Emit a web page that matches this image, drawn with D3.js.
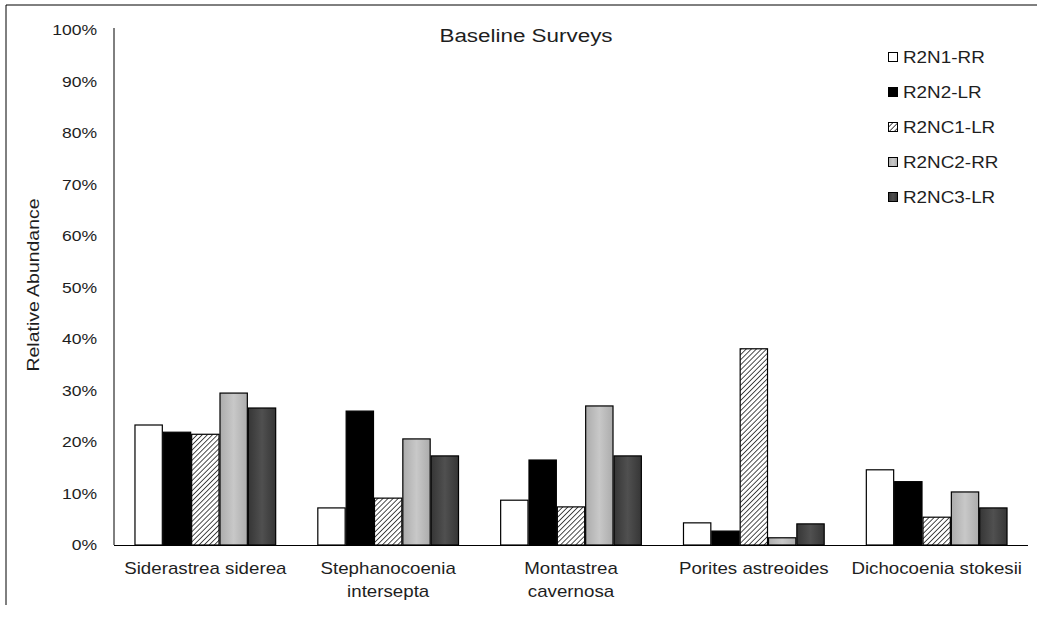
<!DOCTYPE html>
<html><head><meta charset="utf-8">
<script src="https://cdn.jsdelivr.net/npm/d3@7"></script>
<style>body{margin:0;background:#fff}svg{display:block;font-family:"Liberation Sans",Arial,sans-serif}</style>
</head><body><svg id="c" width="1037" height="618"></svg>
<script>
const categories = ["Siderastrea siderea","Stephanocoenia intersepta","Montastrea cavernosa","Porites astreoides","Dichocoenia stokesii"];
const categoryLines = [["Siderastrea siderea"],["Stephanocoenia","intersepta"],["Montastrea","cavernosa"],["Porites astreoides"],["Dichocoenia stokesii"]];
const seriesNames = ["R2N1-RR","R2N2-LR","R2NC1-LR","R2NC2-RR","R2NC3-LR"];
const R2N1_RR  = [23.3, 7.2, 8.7, 4.3, 14.6];
const R2N2_LR  = [21.9, 26.0, 16.5, 2.7, 12.3];
const R2NC1_LR = [21.5, 9.1, 7.4, 38.1, 5.4];
const R2NC2_RR = [29.5, 20.6, 27.0, 1.4, 10.3];
const R2NC3_LR = [26.6, 17.3, 17.3, 4.1, 7.2];
const yTicks = [0,10,20,30,40,50,60,70,80,90,100];

const series = [R2N1_RR, R2N2_LR, R2NC1_LR, R2NC2_RR, R2NC3_LR];
const fills = ["#ffffff","#000000","url(#hatch)","url(#gGrey)","url(#gDark)"];
const SX = 1.17;
const TXT = "#1e1e1e";

const svg = d3.select("#c");
const defs = svg.append("defs");
const hp = defs.append("pattern").attr("id","hatch").attr("patternUnits","userSpaceOnUse")
  .attr("width",3.6).attr("height",3.6).attr("patternTransform","rotate(45)");
hp.append("rect").attr("width",3.6).attr("height",3.6).attr("fill","#fff");
hp.append("line").attr("x1",0).attr("y1",0).attr("x2",0).attr("y2",3.6).attr("stroke","#000").attr("stroke-width",1.4);
function grad(id, edge, mid){
  const g = defs.append("linearGradient").attr("id",id).attr("x1","0").attr("x2","1").attr("y1","0").attr("y2","0");
  g.append("stop").attr("offset","0%").attr("stop-color",edge);
  g.append("stop").attr("offset","50%").attr("stop-color",mid);
  g.append("stop").attr("offset","100%").attr("stop-color",edge);
}
grad("gGrey","#acacac","#c8c8c8");
grad("gDark","#363636","#505050");

// frame
svg.append("line").attr("x1",6).attr("y1",5).attr("x2",1037).attr("y2",5).attr("stroke","#000");
svg.append("line").attr("x1",6).attr("y1",5).attr("x2",6).attr("y2",605).attr("stroke","#000");

const x0 = d3.scaleBand().domain(categories).range([114,1028]).paddingInner(0.225).paddingOuter(0.112);
const x1 = d3.scaleBand().domain(seriesNames).range([0,x0.bandwidth()]);
const y = d3.scaleLinear().domain([0,100]).range([545,30]);

// y axis
svg.append("line").attr("x1",114).attr("x2",114).attr("y1",28).attr("y2",545).attr("stroke","#000");
svg.append("g").selectAll("text").data(yTicks).join("text")
  .attr("transform",d=>`translate(97,${y(d)}) scale(${SX},1)`).attr("dy","0.35em").attr("text-anchor","end")
  .attr("font-size",15).attr("fill",TXT).text(d=>d+"%");
svg.append("text").attr("transform",`translate(39,285) rotate(-90) scale(1.18,1)`).attr("text-anchor","middle")
  .attr("font-size",16.5).attr("fill",TXT).text("Relative Abundance");

// bars
seriesNames.forEach((s,si)=>{
  svg.append("g").selectAll("rect").data(series[si]).join("rect")
    .attr("x",(d,i)=>x0(categories[i])+x1(s)+0.5)
    .attr("y",d=>y(d))
    .attr("width",x1.bandwidth()-1)
    .attr("height",d=>y(0)-y(d))
    .attr("fill",fills[si]).attr("stroke","#000").attr("stroke-width",1.2);
});

// x axis
svg.append("line").attr("x1",114).attr("x2",1028).attr("y1",545.5).attr("y2",545.5).attr("stroke","#000");
categories.forEach((c,i)=>{
  categoryLines[i].forEach((ln,k)=>{
    svg.append("text").attr("transform",`translate(${x0(c)+x0.bandwidth()/2},${574+k*23}) scale(${SX},1)`)
      .attr("text-anchor","middle").attr("font-size",16).attr("fill",TXT).text(ln);
  });
});

// title
svg.append("text").attr("transform",`translate(526,42) scale(1.18,1)`).attr("text-anchor","middle")
  .attr("font-size",19).attr("fill",TXT).text("Baseline Surveys");

// legend
const lg = svg.append("g").selectAll("g").data(seriesNames).join("g")
  .attr("transform",(d,i)=>`translate(888,${57+i*35})`);
lg.append("rect").attr("x",0.5).attr("y",-4.5).attr("width",9).attr("height",9)
  .attr("fill",(d,i)=>fills[i]).attr("stroke","#000").attr("stroke-width",1);
lg.append("text").attr("transform",`translate(15,0) scale(1.18,1)`).attr("dy","0.35em").attr("font-size",16).attr("fill",TXT).text(d=>d);
</script></body></html>
